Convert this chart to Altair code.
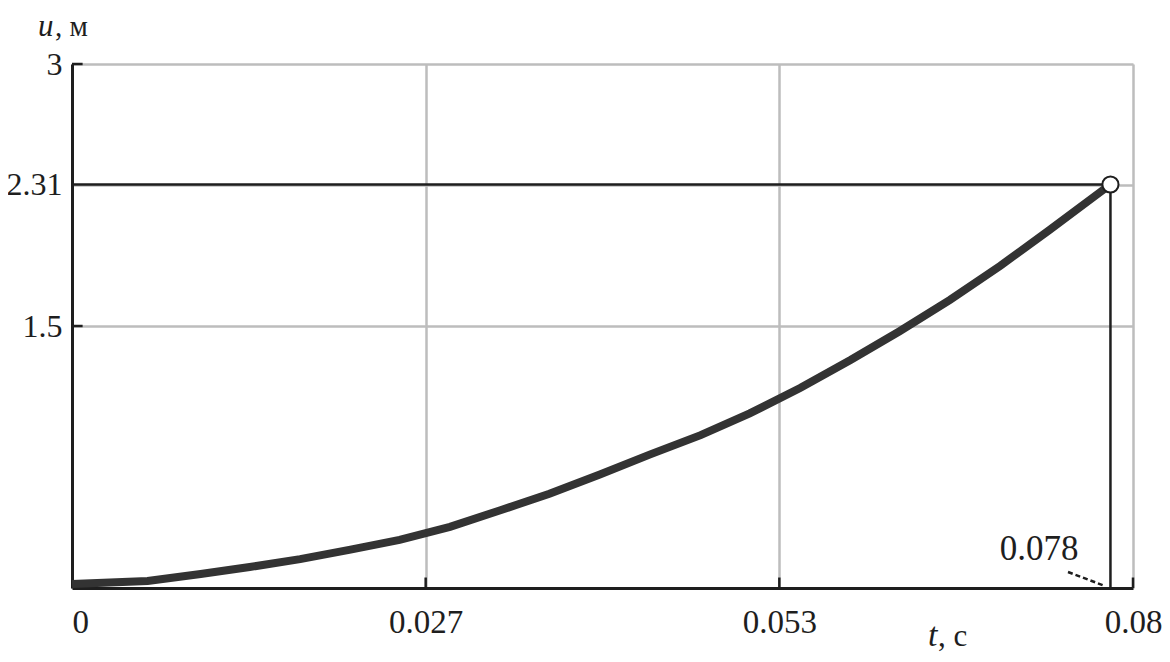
import altair as alt
import pandas as pd

# ---- data ----
t_vals = [0.0, 0.0057, 0.0097, 0.0134, 0.0172, 0.0210, 0.0247, 0.0285, 0.0323,
          0.0360, 0.0398, 0.0436, 0.0474, 0.0511, 0.0549, 0.0587, 0.0624,
          0.0662, 0.0700, 0.0737, 0.0775, 0.0783]
u_vals = [0.023, 0.040, 0.080, 0.120, 0.165, 0.220, 0.275, 0.350, 0.445,
          0.540, 0.650, 0.765, 0.875, 1.000, 1.145, 1.305, 1.470,
          1.650, 1.845, 2.050, 2.265, 2.310]

x_ticks = [0.0, 0.08 / 3, 0.16 / 3, 0.08]
x_tick_labels = ["0", "0.027", "0.053", "0.08"]
y_ticks = [1.5, 2.31, 3.0]
y_tick_labels = ["1.5", "2.31", "3"]

t_mark = 0.0783
u_mark = 2.31
mark_label = "0.078"

FONT = "Liberation Serif"
W, H = 1061, 524
INK = "#1e1e1e"


def label_expr(vals, labels):
    expr = f"'{labels[-1]}'"
    for i in range(len(vals) - 2, -1, -1):
        mid = (vals[i] + vals[i + 1]) / 2
        expr = f"datum.value < {mid} ? '{labels[i]}' : ({expr})"
    return expr


df = pd.DataFrame({"t": t_vals, "u": u_vals})
xs = alt.Scale(domain=[0, 0.08], nice=False, zero=False)
ys = alt.Scale(domain=[0, 3], nice=False, zero=False)

x_axis = alt.Axis(values=x_ticks, labelExpr=label_expr(x_ticks, x_tick_labels),
                  grid=True, gridColor="#bdbdbd", gridWidth=2.5,
                  domainColor=INK, domainWidth=3, ticks=False,
                  labelFont=FONT, labelFontSize=33, labelColor=INK,
                  labelPadding=18, labelFlush=False,
                  labelAlign=alt.expr("datum.value == 0 ? 'left' : 'center'"),
                  title=None)
y_axis = alt.Axis(values=y_ticks, labelExpr=label_expr(y_ticks, y_tick_labels),
                  grid=True, gridColor="#bdbdbd", gridWidth=2.5,
                  domainColor=INK, domainWidth=3, ticks=False,
                  labelFont=FONT, labelFontSize=32, labelColor=INK,
                  labelPadding=10, title=None)

curve = alt.Chart(df).mark_line(color="#333333", strokeWidth=8).encode(
    x=alt.X("t:Q", scale=xs, axis=x_axis),
    y=alt.Y("u:Q", scale=ys, axis=y_axis),
)

mk = pd.DataFrame({"t0": [0.0], "t": [t_mark], "u0": [0.0], "u": [u_mark]})
hrule = alt.Chart(mk).mark_rule(color=INK, strokeWidth=2.5).encode(
    x=alt.X("t0:Q", scale=xs), x2="t:Q", y=alt.Y("u:Q", scale=ys))
vrule = alt.Chart(mk).mark_rule(color=INK, strokeWidth=2.5).encode(
    x=alt.X("t:Q", scale=xs), y=alt.Y("u0:Q", scale=ys), y2="u:Q")
pt = alt.Chart(mk).mark_point(shape="circle", filled=True, fill="white",
                              stroke=INK, strokeWidth=2, size=260,
                              opacity=1).encode(
    x=alt.X("t:Q", scale=xs), y=alt.Y("u:Q", scale=ys))

# inward ticks
xt = pd.DataFrame({"t": x_ticks[1:], "u0": [0.0] * 3, "u1": [0.06] * 3})
xticks = alt.Chart(xt).mark_rule(color=INK, strokeWidth=2.5).encode(
    x=alt.X("t:Q", scale=xs), y=alt.Y("u0:Q", scale=ys), y2="u1:Q")
yt = pd.DataFrame({"u": [1.5, 3.0], "t0": [0.0, 0.0], "t1": [0.0008, 0.0008]})
yticks = alt.Chart(yt).mark_rule(color=INK, strokeWidth=2.5).encode(
    y=alt.Y("u:Q", scale=ys), x=alt.X("t0:Q", scale=xs), x2="t1:Q")

# annotation label with dashed leader
ann = alt.Chart(mk).mark_text(font=FONT, fontSize=35, color=INK,
                              align="center", baseline="middle").encode(
    x=alt.value(967), y=alt.value(485), text=alt.value(mark_label))
leader = alt.Chart(mk).mark_rule(color=INK, strokeWidth=2.5,
                                 strokeDash=[5, 3]).encode(
    x=alt.value(996), x2=alt.value(1033), y=alt.value(508), y2=alt.value(522))

# axis titles
u_it = alt.Chart(mk).mark_text(font=FONT, fontSize=31, fontStyle="italic",
                               color=INK, align="left",
                               baseline="alphabetic").encode(
    x=alt.value(-34), y=alt.value(-28), text=alt.value("u"))
u_rest = alt.Chart(mk).mark_text(font=FONT, fontSize=29, color=INK,
                                 align="left", baseline="alphabetic").encode(
    x=alt.value(-17), y=alt.value(-28), text=alt.value(", м"))
t_it = alt.Chart(mk).mark_text(font=FONT, fontSize=34, fontStyle="italic",
                               color=INK, align="left",
                               baseline="alphabetic").encode(
    x=alt.value(856), y=alt.value(582), text=alt.value("t"))
t_rest = alt.Chart(mk).mark_text(font=FONT, fontSize=31, color=INK,
                                 align="left", baseline="alphabetic").encode(
    x=alt.value(866), y=alt.value(582), text=alt.value(", с"))

chart = alt.layer(curve, hrule, vrule, xticks, yticks, leader, pt, ann,
                  u_it, u_rest, t_it, t_rest).properties(
    width=W, height=H,
    autosize=alt.AutoSizeParams(type="none"),
    padding={"left": 64, "top": 56, "right": 29, "bottom": 66},
).configure_view(stroke=None).configure(background="white")

chart.save("out.html", embed_options={"renderer": "svg", "actions": False})
